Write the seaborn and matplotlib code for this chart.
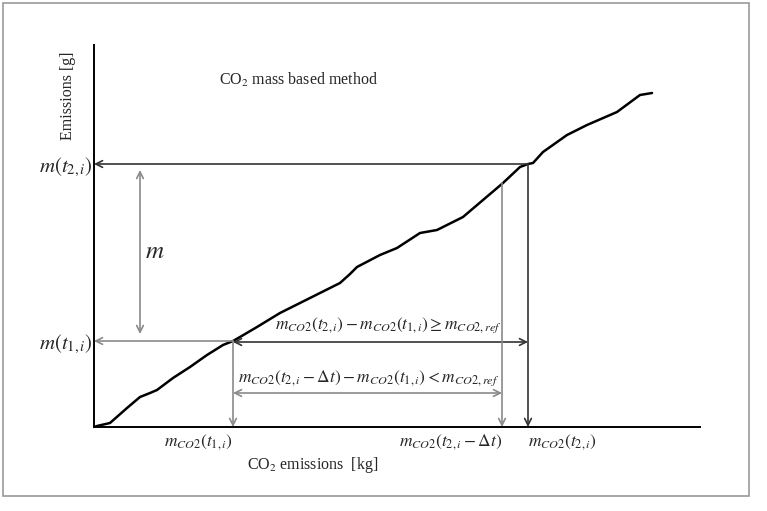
import numpy as np
import pandas as pd
import matplotlib
matplotlib.use("Agg")
import matplotlib.pyplot as plt
from matplotlib.patches import Rectangle
import seaborn as sns

# curve: CO2 emissions [kg] vs emissions [g]
co2_kg = [0, 0.3, 1.6, 3.3, 4.6, 5.6, 6.3, 7.9, 9.6, 11.3, 12.9, 13.9, 14.6, 16.3,
          18.6, 22.6, 24.6, 25.6, 26.3, 28.6, 30.3, 32.6, 34.3, 36.9, 38.9, 40.9,
          42.6, 43.4, 43.9, 44.9, 47.3, 49.3, 52.3, 54.6, 55.8]
emis_g = [0, 0.1, 0.4, 1.9, 3.0, 3.4, 3.7, 4.9, 6.0, 7.2, 8.2, 8.6, 9.0, 10.0,
          11.4, 13.4, 14.4, 15.3, 16.0, 17.2, 17.9, 19.4, 19.7, 21.0, 22.7, 24.4,
          26.0, 26.3, 26.4, 27.5, 29.2, 30.2, 31.5, 33.2, 33.4]

# marked points
x_t1, x_t2dt, x_t2 = 13.9, 40.8, 43.4
y_t1, y_t2dt, y_t2 = 8.6, 24.4, 26.3

x_ticklabels = [r"$m_{CO2}(t_{1,i})$", r"$m_{CO2}(t_{2,i}-\Delta t)$", r"$m_{CO2}(t_{2,i})$"]
y_ticklabels = [r"$m(t_{1,i})$", r"$m(t_{2,i})$"]

df = pd.DataFrame({"co2": co2_kg, "emis": emis_g})

sns.set_style("white")
plt.rcParams["font.family"] = ["Liberation Serif", "DejaVu Serif"]
plt.rcParams["mathtext.fontset"] = "stix"

fig = plt.figure(figsize=(7.67, 5.11), dpi=100)
ax = fig.add_axes([94 / 767, 84 / 511, 606 / 767, 382 / 511])

sns.lineplot(data=df, x="co2", y="emis", color="black", lw=1.8, ax=ax)

ax.set_xlim(0, 60.6)
ax.set_ylim(0, 38.2)
sns.despine(ax=ax)
for s in ["left", "bottom"]:
    ax.spines[s].set_color("black")
    ax.spines[s].set_linewidth(1.4)

dark = "#333333"
grey = "#8a8a8a"

def arrow(x0, y0, x1, y1, color, style="->"):
    ax.annotate("", xy=(x1, y1), xytext=(x0, y0),
                arrowprops=dict(arrowstyle=style, color=color, lw=1.2,
                                shrinkA=0, shrinkB=0, mutation_scale=12))

# horizontal lines to the y axis
arrow(x_t2, y_t2, 0, y_t2, dark)
arrow(x_t1, y_t1, 0, y_t1, grey)
# m double arrow
arrow(4.6, y_t2 - 0.6, 4.6, y_t1 + 0.7, grey, "<->")
ax.text(6.1, 17.5, r"$m$", fontsize=18, ha="center", va="center")
# difference arrows
arrow(x_t1, y_t1 - 0.1, x_t2, y_t1 - 0.1, dark, "<->")
arrow(x_t1, 3.4, x_t2dt, 3.4, grey, "<->")
# vertical drops to the x axis
arrow(x_t1, y_t1, x_t1, 0, grey)
arrow(x_t2dt, y_t2dt, x_t2dt, 0, grey)
arrow(x_t2, y_t2, x_t2, 0, dark)

ax.text(29.4, 10.2, r"$m_{CO2}(t_{2,i})-m_{CO2}(t_{1,i})\geq m_{CO2,ref}$",
        fontsize=12.5, ha="center", va="center")
ax.text(27.5, 4.9, r"$m_{CO2}(t_{2,i}-\Delta t)-m_{CO2}(t_{1,i})<m_{CO2,ref}$",
        fontsize=12.5, ha="center", va="center")
ax.text(20.4, 34.7, r"CO$_2$ mass based method", fontsize=11.5, ha="center", va="center")

ax.set_xticks([x_t1, x_t2dt, x_t2])
ax.set_xticklabels(x_ticklabels, fontsize=12.5)
for lab, ha in zip(ax.get_xticklabels(), ["right", "right", "left"]):
    lab.set_ha(ha)
ax.set_yticks([y_t1, y_t2])
ax.set_yticklabels(y_ticklabels, fontsize=15)
ax.tick_params(axis="x", length=0, pad=4)
ax.tick_params(axis="y", length=0, pad=1)

ax.set_xlabel(r"CO$_2$ emissions  [kg]", fontsize=11.5)
ax.xaxis.set_label_coords(219 / 606, -38 / 382)
ax.xaxis.label.set_va("center")
ax.set_ylabel("Emissions [g]", fontsize=11.5)
ax.yaxis.set_label_coords(-26 / 606, 331 / 382)
ax.yaxis.label.set_va("center")

fig.patches.append(Rectangle((3 / 767, 15 / 511), 746 / 767, 493 / 511,
                             transform=fig.transFigure, fill=False,
                             edgecolor="#999999", lw=1.2))

fig.savefig("out.png", dpi=100, facecolor="white")
